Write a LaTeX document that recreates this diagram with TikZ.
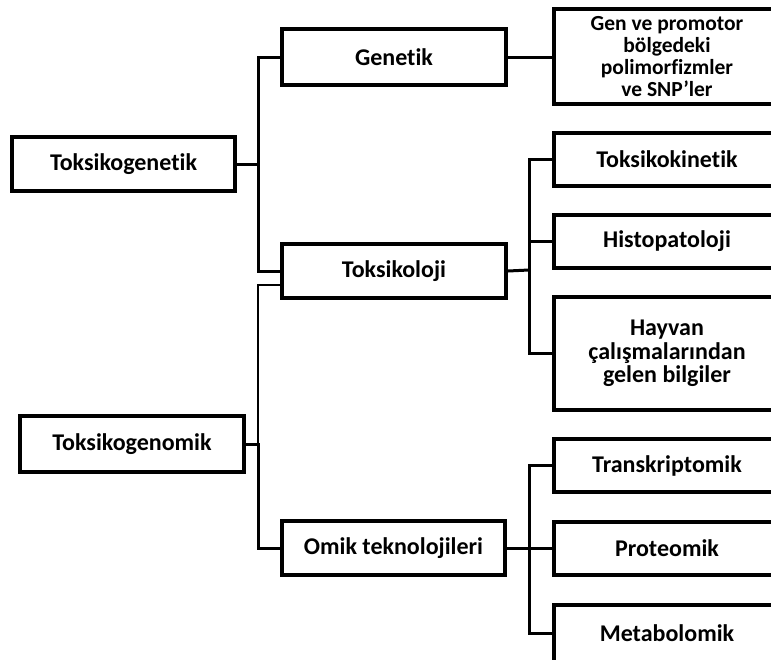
\documentclass[tikz,border=0pt]{standalone}
\usepackage{fontspec}
\setmainfont{Carlito}[Ligatures=NoCommon]
\usetikzlibrary{shadows}
\begin{document}
\begin{tikzpicture}[x=1pt,y=-1pt,
  box/.style={draw=black, line width=4pt, fill=white, inner sep=0pt,
    align=center, font=\bfseries\fontsize{24}{21.5}\selectfont,
    drop shadow={shadow xshift=1pt, shadow yshift=-2pt, opacity=0.25, fill=gray}},
  conn/.style={draw=black, line width=3pt},
  thinconn/.style={draw=black, line width=1.8pt}]
\useasboundingbox (0,0) rectangle (771,659);
\begin{scope}
\clip (0,0) rectangle (771,659);
% left column
\node[box, minimum width=223pt, minimum height=54pt] (tgen) at (123.5,164) {Toksikogenetik};
\node[box, minimum width=224pt, minimum height=56pt] (tgenom) at (132,444) {Toksikogenomik};
% middle column
\node[box, minimum width=224pt, minimum height=56pt] (genetik) at (394,57) {Genetik};
\node[box, minimum width=224pt, minimum height=54pt] (toksik) at (394,271) {Toksikoloji};
\node[box, minimum width=223pt, minimum height=54pt] (omik) at (393.5,548) {Omik teknolojileri};
% right column
\node[box, minimum width=226pt, minimum height=95pt, font=\bfseries\fontsize{21.5}{22}\selectfont] (genpro) at (667,56.5) {Gen ve promotor\\bölgedeki\\polimorfizmler\\ve SNP’ler};
\node[box, minimum width=226pt, minimum height=53pt] (tkin) at (667,159) {Toksikokinetik};
\node[box, minimum width=226pt, minimum height=53pt] (histo) at (667,241.5) {Histopatoloji};
\node[box, minimum width=226pt, minimum height=113pt, font=\bfseries\fontsize{24}{23.5}\selectfont] (hayvan) at (667,353.5) {Hayvan\\çalışmalarından\\gelen bilgiler};
\node[box, minimum width=226pt, minimum height=53pt] (trans) at (667,465.5) {Transkriptomik};
\node[box, minimum width=226pt, minimum height=53pt] (proteo) at (667,548.5) {Proteomik};
\node[box, minimum width=226pt, minimum height=57pt] (metabo) at (667,633.5) {Metabolomik};
\end{scope}
% junctions
\coordinate (j1) at (258,164);
\coordinate (j2) at (258,444);
\coordinate (j3) at (529,270);
\coordinate (j4) at (529,548);
\coordinate (tkl) at (280,285);
% connectors
\draw[conn] (tgen.east) -- (j1);
\draw[conn] (genetik.west) -| (j1) |- (toksik.west);
\draw[thinconn] (tkl) -| (j2);
\draw[conn] (tgenom.east) -- (j2) |- (omik.west);
\draw[conn] (genetik.east) -- (genpro.west |- genetik.east);
\draw[conn] (toksik.east) -- (j3);
\draw[conn] (tkin.west) -| (j3) |- (hayvan.west);
\draw[conn] (j3 |- histo.west) -- (histo.west);
\draw[conn] (omik.east) -- (j4);
\draw[conn] (trans.west) -| (j4) |- (metabo.west);
\draw[conn] (j4 |- proteo.west) -- (proteo.west);
\end{tikzpicture}
\end{document}
